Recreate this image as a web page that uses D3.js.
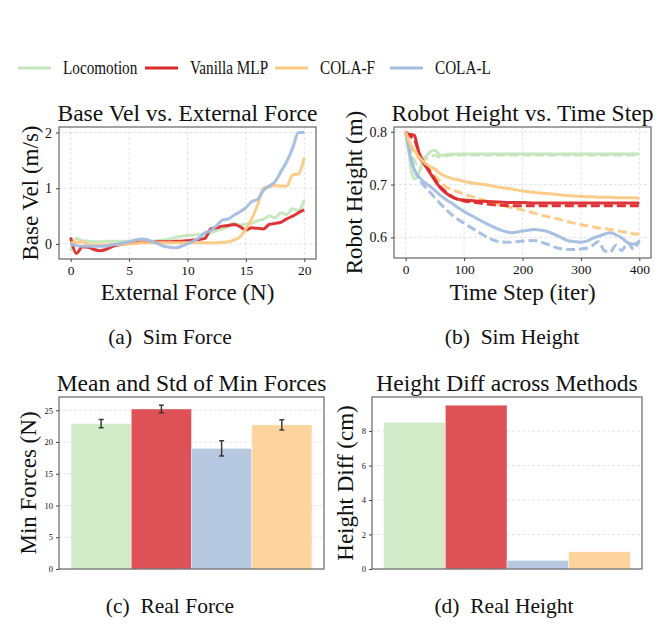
<!DOCTYPE html>
<html>
<head>
<meta charset="utf-8">
<script src="https://cdn.jsdelivr.net/npm/d3@7"></script>
<style>
  body { margin: 0; background: #fff; }
  text { font-family: "Liberation Serif", "DejaVu Serif", serif; fill: #111; }
</style>
</head>
<body>
<div id="chart"></div>
<script>
// legend / series names
var methods = ["Locomotion", "Vanilla MLP", "COLA-F", "COLA-L"];
var lineColors = ["#c4e6bb", "#dc2a2d", "#fec984", "#a3bde0"];

// (a) base velocity vs external force
var forces = [0, 0.5, 1, 1.5, 2, 2.5, 3, 3.5, 4, 4.5, 5, 5.5, 6, 6.5, 7, 7.5, 8, 8.5, 9, 9.5, 10,
  10.5, 11, 11.5, 12, 12.5, 13, 13.5, 14, 14.5, 15, 15.5, 16, 16.5, 17, 17.5, 18, 18.5, 19, 19.5, 20];
var velLoco = [-0.12, 0.10, 0.06, 0.05, 0.04, 0.04, 0.05, 0.05, 0.05, 0.05, 0.05, 0.05, 0.05, 0.04, 0.05, 0.06, 0.07, 0.09, 0.12, 0.14, 0.15,
  0.16, 0.17, 0.18, 0.20, 0.24, 0.27, 0.32, 0.37, 0.34, 0.36, 0.37, 0.42, 0.44, 0.50, 0.47, 0.56, 0.53, 0.63, 0.60, 0.79];
var velMlp = [0.12, -0.17, -0.05, -0.06, -0.10, -0.12, -0.10, -0.05, -0.02, 0.00, 0.01, 0.02, 0.03, 0.03, 0.03, 0.04, 0.04, 0.04, 0.05, 0.05, 0.06,
  0.07, 0.08, 0.10, 0.27, 0.29, 0.32, 0.33, 0.35, 0.31, 0.25, 0.29, 0.28, 0.27, 0.35, 0.37, 0.39, 0.45, 0.50, 0.56, 0.61];
var velColaF = [0.02, 0.03, 0.04, -0.01, -0.02, -0.02, -0.02, -0.01, -0.01, 0.00, 0.00, 0.01, 0.02, 0.02, 0.02, 0.02, 0.02, 0.02, 0.02, 0.02, 0.02,
  0.02, 0.02, 0.02, 0.02, 0.02, 0.03, 0.04, 0.07, 0.13, 0.27, 0.45, 0.70, 1.00, 1.03, 1.05, 1.04, 1.04, 1.24, 1.26, 1.55];
var velColaL = [0.00, -0.03, -0.04, -0.04, -0.04, -0.04, -0.04, -0.02, 0.00, 0.02, 0.04, 0.07, 0.09, 0.08, 0.04, 0.00, -0.04, -0.06, -0.07, -0.04, 0.00,
  0.05, 0.11, 0.20, 0.24, 0.33, 0.43, 0.45, 0.52, 0.58, 0.65, 0.76, 0.80, 0.96, 1.04, 1.12, 1.30, 1.48, 1.72, 2.00, 2.00];

// (b) robot height vs time step (solid = sim, dashed = second run)
var steps = [0, 5, 10, 15, 20, 25, 30, 40, 50, 60, 70, 80, 90, 100, 120, 140, 160, 180, 200, 220, 240, 260, 280, 300,
  310, 320, 330, 340, 350, 360, 370, 380, 390, 400];
var hLoco = [0.800, 0.765, 0.725, 0.711, 0.715, 0.730, 0.745, 0.760, 0.765, 0.755, 0.757, 0.758, 0.758, 0.758, 0.758, 0.758, 0.758, 0.758, 0.758, 0.758, 0.758, 0.758, 0.758, 0.758,
  0.758, 0.758, 0.758, 0.758, 0.758, 0.758, 0.758, 0.758, 0.758, 0.758];
var hLocoD = [0.800, 0.780, 0.760, 0.745, 0.738, 0.740, 0.745, 0.752, 0.755, 0.752, 0.755, 0.756, 0.756, 0.756, 0.756, 0.756, 0.756, 0.756, 0.756, 0.756, 0.756, 0.756, 0.756, 0.756,
  0.756, 0.756, 0.756, 0.756, 0.756, 0.756, 0.756, 0.756, 0.756, 0.756];
var hMlp = [0.795, 0.795, 0.795, 0.793, 0.772, 0.752, 0.742, 0.725, 0.708, 0.693, 0.683, 0.676, 0.672, 0.671, 0.669, 0.668, 0.667, 0.666, 0.666, 0.665, 0.665, 0.665, 0.665, 0.665,
  0.665, 0.665, 0.665, 0.665, 0.665, 0.665, 0.665, 0.665, 0.665, 0.665];
var hMlpD = [0.800, 0.795, 0.790, 0.785, 0.770, 0.755, 0.745, 0.727, 0.710, 0.695, 0.685, 0.677, 0.672, 0.669, 0.666, 0.663, 0.661, 0.660, 0.660, 0.660, 0.660, 0.660, 0.660, 0.660,
  0.660, 0.660, 0.660, 0.660, 0.660, 0.660, 0.660, 0.660, 0.660, 0.660];
var hColaF = [0.800, 0.785, 0.772, 0.765, 0.756, 0.750, 0.744, 0.735, 0.729, 0.720, 0.715, 0.711, 0.709, 0.706, 0.702, 0.699, 0.695, 0.692, 0.688, 0.685, 0.683, 0.681, 0.679, 0.678,
  0.677, 0.677, 0.676, 0.676, 0.676, 0.675, 0.675, 0.675, 0.675, 0.674];
var hColaFD = [0.800, 0.785, 0.772, 0.763, 0.754, 0.747, 0.741, 0.728, 0.716, 0.705, 0.695, 0.690, 0.686, 0.682, 0.675, 0.668, 0.662, 0.657, 0.652, 0.646, 0.640, 0.635, 0.629, 0.624,
  0.622, 0.620, 0.618, 0.617, 0.615, 0.613, 0.611, 0.609, 0.607, 0.606];
var hColaL = [0.800, 0.770, 0.745, 0.728, 0.717, 0.712, 0.706, 0.698, 0.689, 0.679, 0.671, 0.664, 0.656, 0.649, 0.637, 0.625, 0.615, 0.609, 0.612, 0.615, 0.612, 0.603, 0.593, 0.591,
  0.593, 0.598, 0.602, 0.606, 0.609, 0.605, 0.599, 0.590, 0.587, 0.592];
var hColaLD = [0.800, 0.770, 0.745, 0.728, 0.717, 0.708, 0.700, 0.688, 0.675, 0.663, 0.652, 0.642, 0.634, 0.627, 0.613, 0.600, 0.592, 0.591, 0.593, 0.594, 0.588, 0.580, 0.577, 0.578,
  0.580, 0.585, 0.592, 0.575, 0.572, 0.585, 0.575, 0.590, 0.578, 0.595];

// (c) / (d) real robot bars
var barMethods = ["Locomotion", "Vanilla MLP", "COLA-L", "COLA-F"];
var barColors = ["#d1ebc9", "#de5157", "#b6c9e1", "#fdd49e"];
var minForceMean = [22.9, 25.2, 19.0, 22.7];
var minForceStd = [0.65, 0.6, 1.2, 0.8];
var heightDiff = [8.5, 9.5, 0.5, 1.0];

var svg = d3.select("#chart").append("svg")
  .attr("width", 663).attr("height", 629);
svg.append("rect").attr("width", 663).attr("height", 629).attr("fill", "#fff");

// legend (text in the original is a bit condensed)
var legX = [18, 145, 275, 390];
methods.forEach(function(m, i) {
  var g = svg.append("g").attr("transform", "translate(" + legX[i] + ",68)");
  g.append("line").attr("x1", 0).attr("x2", 33).attr("stroke", lineColors[i]).attr("stroke-width", 3.2);
  var t = g.append("text").attr("x", 45).attr("y", 6).attr("font-size", 19).text(m);
  var w = t.node().getComputedTextLength();
  t.attr("textLength", w * 0.8).attr("lengthAdjust", "spacingAndGlyphs");
});

function frame(g, x0, y0, x1, y1) {
  g.append("rect").attr("x", x0).attr("y", y0).attr("width", x1 - x0).attr("height", y1 - y0)
    .attr("fill", "none").attr("stroke", "#666").attr("stroke-width", 1.2);
}

function styleAxis(sel, fs) {
  sel.select(".domain").remove();
  sel.selectAll(".tick line").attr("stroke", "#444");
  sel.selectAll(".tick text").attr("font-family", "Liberation Serif, serif").attr("font-size", fs).attr("fill", "#222");
}

function linePanel(opt) {
  var g = svg.append("g");
  var x = d3.scaleLinear().domain(opt.xd).range([opt.x0, opt.x1]);
  var y = d3.scaleLinear().domain(opt.yd).range([opt.y1, opt.y0]);
  // grid
  g.selectAll(".gx").data(opt.xt).enter().append("line")
    .attr("x1", x).attr("x2", x).attr("y1", opt.y0).attr("y2", opt.y1)
    .attr("stroke", "#ddd").attr("stroke-dasharray", "3,2").attr("stroke-width", 0.8);
  g.selectAll(".gy").data(opt.yt).enter().append("line")
    .attr("y1", y).attr("y2", y).attr("x1", opt.x0).attr("x2", opt.x1)
    .attr("stroke", "#ddd").attr("stroke-dasharray", "3,2").attr("stroke-width", 0.8);

  var line = d3.line().x(function(d) { return x(d[0]); }).y(function(d) { return y(d[1]); })
    .curve(d3.curveMonotoneX);
  opt.series.forEach(function(s) {
    g.append("path").datum(opt.xs.map(function(v, i) { return [v, s.vals[i]]; }))
      .attr("d", line).attr("fill", "none").attr("stroke", s.color)
      .attr("stroke-width", 3).attr("stroke-opacity", 0.95)
      .attr("stroke-dasharray", s.dash ? "9,4" : null)
      .attr("stroke-linejoin", "round");
  });
  frame(g, opt.x0, opt.y0, opt.x1, opt.y1);

  var ax = g.append("g").attr("transform", "translate(0," + opt.y1 + ")")
    .call(d3.axisBottom(x).tickValues(opt.xt).tickSize(3).tickPadding(3).tickFormat(d3.format("d")));
  styleAxis(ax, 13.5);
  var ay = g.append("g").attr("transform", "translate(" + opt.x0 + ",0)")
    .call(d3.axisLeft(y).tickValues(opt.yt).tickSize(3).tickPadding(4).tickFormat(opt.yf));
  styleAxis(ay, 14);

  g.append("text").attr("x", (opt.x0 + opt.x1) / 2).attr("y", 121).attr("text-anchor", "middle")
    .attr("font-size", 23.5).text(opt.title);
  g.append("text").attr("x", (opt.x0 + opt.x1) / 2).attr("y", 300).attr("text-anchor", "middle")
    .attr("font-size", 23).text(opt.xlabel);
  g.append("text").attr("transform", "translate(" + opt.ylx + "," + (opt.y0 + opt.y1) / 2 + ") rotate(-90)")
    .attr("text-anchor", "middle").attr("dy", "0.35em").attr("font-size", 23).text(opt.ylabel);
}

linePanel({
  x0: 59, x1: 316, y0: 127, y1: 259, xd: [-1, 21], yd: [-0.27, 2.1],
  xt: [0, 5, 10, 15, 20], yt: [0, 1, 2], yf: d3.format("d"), xs: forces,
  title: "Base Vel vs. External Force", xlabel: "External Force (N)", ylabel: "Base Vel (m/s)", ylx: 30,
  series: [
    { vals: velLoco, color: lineColors[0] },
    { vals: velMlp, color: lineColors[1] },
    { vals: velColaF, color: lineColors[2] },
    { vals: velColaL, color: lineColors[3] }
  ]
});

linePanel({
  x0: 394, x1: 651, y0: 127, y1: 258, xd: [-20, 420], yd: [0.561, 0.809],
  xt: [0, 100, 200, 300, 400], yt: [0.6, 0.7, 0.8], yf: d3.format(".1f"), xs: steps,
  title: "Robot Height vs. Time Step", xlabel: "Time Step (iter)", ylabel: "Robot Height (m)", ylx: 354,
  series: [
    { vals: hLocoD, color: lineColors[0], dash: true },
    { vals: hLoco, color: lineColors[0] },
    { vals: hColaLD, color: lineColors[3], dash: true },
    { vals: hColaL, color: lineColors[3] },
    { vals: hColaFD, color: lineColors[2], dash: true },
    { vals: hMlpD, color: lineColors[1], dash: true },
    { vals: hMlp, color: lineColors[1] },
    { vals: hColaF, color: lineColors[2] }
  ]
});

function barPanel(opt) {
  var g = svg.append("g");
  var x = d3.scaleBand().domain(barMethods).range([opt.x0, opt.x1]).paddingInner(0).paddingOuter(opt.pad);
  var y = d3.scaleLinear().domain([0, opt.ymax]).range([opt.y1, opt.y0]);
  g.selectAll(".gy").data(opt.yt).enter().append("line")
    .attr("y1", y).attr("y2", y).attr("x1", opt.x0).attr("x2", opt.x1)
    .attr("stroke", "#ddd").attr("stroke-dasharray", "3,2").attr("stroke-width", 0.8);
  g.selectAll(".bar").data(opt.vals).enter().append("rect")
    .attr("x", function(d, i) { return x(barMethods[i]); })
    .attr("width", x.bandwidth())
    .attr("y", function(d) { return y(d); })
    .attr("height", function(d) { return opt.y1 - y(d); })
    .attr("fill", function(d, i) { return barColors[i]; })
    .attr("stroke", "#fff").attr("stroke-opacity", 0.5).attr("stroke-width", 0.8);
  if (opt.err) {
    opt.vals.forEach(function(d, i) {
      var cx = x(barMethods[i]) + x.bandwidth() / 2;
      var eg = g.append("g").attr("stroke", "#333").attr("stroke-width", 1.4);
      eg.append("line").attr("x1", cx).attr("x2", cx).attr("y1", y(d - opt.err[i])).attr("y2", y(d + opt.err[i]));
      eg.append("line").attr("x1", cx - 2.5).attr("x2", cx + 2.5).attr("y1", y(d - opt.err[i])).attr("y2", y(d - opt.err[i]));
      eg.append("line").attr("x1", cx - 2.5).attr("x2", cx + 2.5).attr("y1", y(d + opt.err[i])).attr("y2", y(d + opt.err[i]));
    });
  }
  frame(g, opt.x0, opt.y0, opt.x1, opt.y1);
  var ay = g.append("g").attr("transform", "translate(" + opt.x0 + ",0)")
    .call(d3.axisLeft(y).tickValues(opt.yt).tickSize(3).tickPadding(3).tickFormat(d3.format("d")));
  styleAxis(ay, 8.5);

  g.append("text").attr("x", (opt.x0 + opt.x1) / 2).attr("y", 391).attr("text-anchor", "middle")
    .attr("font-size", 23.5).text(opt.title);
  g.append("text").attr("transform", "translate(" + opt.ylx + "," + (opt.y0 + opt.y1) / 2 + ") rotate(-90)")
    .attr("text-anchor", "middle").attr("dy", "0.35em").attr("font-size", 23).text(opt.ylabel);
}

barPanel({
  x0: 59, x1: 324, y0: 397, y1: 569, pad: 0.2,
  ymax: d3.max(minForceMean.map(function(d, i) { return d + minForceStd[i]; })) * 1.05,
  yt: [0, 5, 10, 15, 20, 25], vals: minForceMean, err: minForceStd,
  title: "Mean and Std of Min Forces", ylabel: "Min Forces (N)", ylx: 28
});

barPanel({
  x0: 372, x1: 642, y0: 397, y1: 569, pad: 0.19,
  ymax: d3.max(heightDiff) * 1.05,
  yt: [0, 2, 4, 6, 8], vals: heightDiff,
  title: "Height Diff across Methods", ylabel: "Height Diff (cm)", ylx: 345
});

// sub-captions
var captions = [["(a)  Sim Force", 170, 344], ["(b)  Sim Height", 512, 344],
  ["(c)  Real Force", 170, 613], ["(d)  Real Height", 504, 613]];
captions.forEach(function(c) {
  svg.append("text").attr("x", c[1]).attr("y", c[2]).attr("text-anchor", "middle")
    .attr("font-size", 21.5).style("white-space", "pre").text(c[0]);
});
</script>
</body>
</html>
